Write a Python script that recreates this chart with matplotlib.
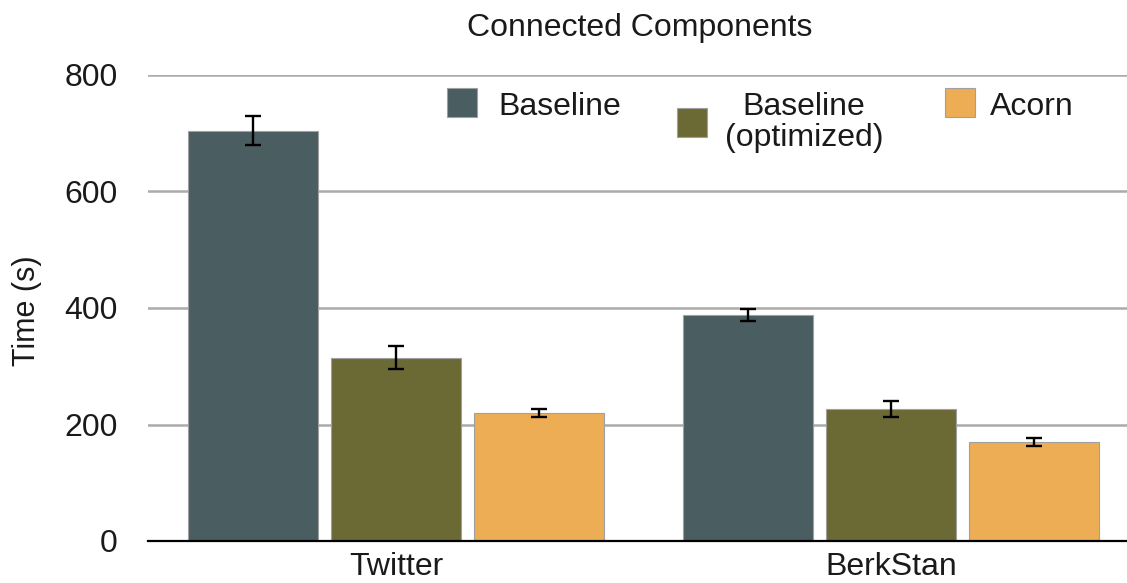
import matplotlib
matplotlib.use("Agg")
import matplotlib.pyplot as plt
from matplotlib.patches import Rectangle
import numpy as np

plt.rcParams['font.family'] = ['Liberation Sans', 'DejaVu Sans']

# Data
datasets = ["Twitter", "BerkStan"]
series_names = ["Baseline", "Baseline\n(optimized)", "Acorn"]
baseline = [704, 388]
baseline_opt = [315, 227]
acorn = [220, 170]
baseline_err = [25, 11]
baseline_opt_err = [20, 14]
acorn_err = [7, 7]
yticks = [0, 200, 400, 600, 800]

series = [baseline, baseline_opt, acorn]
errors = [baseline_err, baseline_opt_err, acorn_err]
colors = ["#4a5d60", "#6b6a35", "#edad55"]
text_color = "#1a1a1a"
fs = 23

W, H = 1127, 583
fig = plt.figure(figsize=(W / 100, H / 100), dpi=100)
ax = fig.add_axes([148 / W, 42 / H, (W - 148) / W, (541 - 75) / H])

x = np.arange(len(datasets))
width = 0.263
step = 0.289
for i, (vals, errs, col) in enumerate(zip(series, errors, colors)):
    ax.bar(x + (i - 1) * step, vals, width, color=col, edgecolor="#a0a0a0",
           linewidth=0.8, zorder=3)
    ax.errorbar(x + (i - 1) * step, vals, yerr=errs, fmt="none", ecolor="black",
                elinewidth=1.7, capsize=5.5, capthick=1.7, zorder=4)

ax.set_xlim(-0.501, 1.477)
ax.set_ylim(0, 800)
ax.set_yticks(yticks)
ax.set_xticks(x)
ax.set_xticklabels(datasets)
for s in ["top", "right", "left"]:
    ax.spines[s].set_visible(False)
ax.spines["bottom"].set_color("black")
ax.spines["bottom"].set_linewidth(1.6)
ax.spines["bottom"].set_zorder(5)
ax.yaxis.grid(True, color="#ababab", linewidth=1.8, zorder=0)
ax.set_axisbelow(True)
ax.tick_params(axis="y", length=0, pad=22, labelsize=fs, labelcolor=text_color)
ax.tick_params(axis="x", length=0, pad=8, labelsize=fs, labelcolor=text_color)

fig.text(640 / W, 1 - 28 / H, "Connected Components", ha="center", va="center",
         fontsize=fs, color=text_color)
fig.text(27 / W, 1 - 311 / H, "Time (s)", rotation=90, ha="center", va="center",
         fontsize=22, color=text_color)

# Legend entries
def px(xp, yp):
    return xp / W, 1 - yp / H

def swatch(x0, y0, col):
    fx, fy = px(x0, y0 + 29)
    fig.patches.append(Rectangle((fx, fy), 30 / W, 29 / H, transform=fig.transFigure,
                                 facecolor=col, edgecolor="#a0a0a0", linewidth=0.8))

swatch(447, 88, colors[0])
fig.text(*px(498, 115), "Baseline", ha="left", va="baseline", fontsize=fs, color=text_color)
swatch(677, 108, colors[1])
line1, line2 = series_names[1].split("\n")
fig.text(*px(804, 115), line1, ha="center", va="baseline", fontsize=fs, color=text_color)
fig.text(*px(804, 146), line2, ha="center", va="baseline", fontsize=fs, color=text_color)
swatch(945, 88, colors[2])
fig.text(*px(990, 115), "Acorn", ha="left", va="baseline", fontsize=fs, color=text_color)

fig.savefig("out.png", dpi=100)
